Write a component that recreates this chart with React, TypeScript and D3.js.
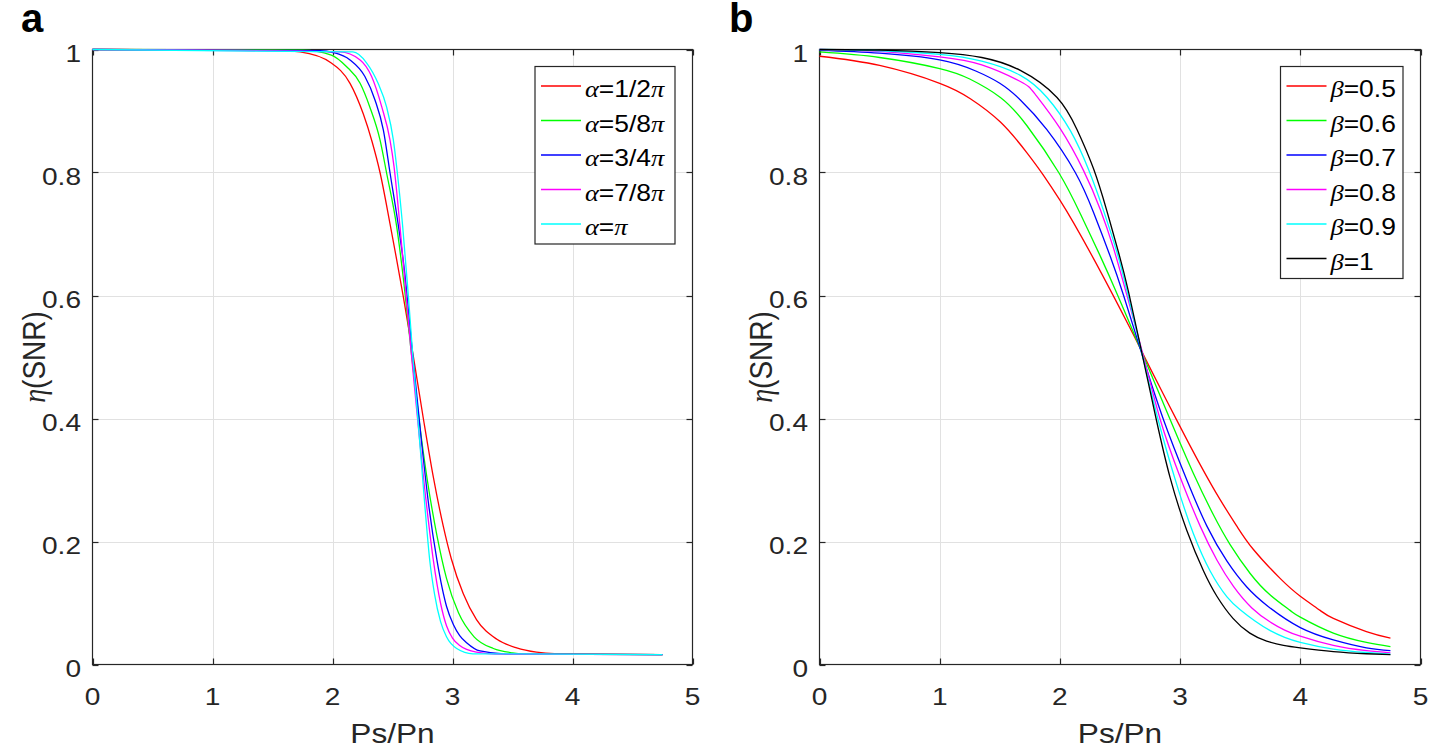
import React from 'react';
import * as d3 from 'd3';

// ---------- data ----------
const xTicks = [0, 1, 2, 3, 4, 5];
const xTickLabels = ['0', '1', '2', '3', '4', '5'];
const yTicks = [0, 0.2, 0.4, 0.6, 0.8, 1];
const yTickLabels = ['0', '0.2', '0.4', '0.6', '0.8', '1'];

const alphaNames = ['α=1/2π', 'α=5/8π', 'α=3/4π', 'α=7/8π', 'α=π'];
const betaNames = ['β=0.5', 'β=0.6', 'β=0.7', 'β=0.8', 'β=0.9', 'β=1'];
const alphaColors = ['#ff0000', '#00ff00', '#0000ff', '#ff00ff', '#00ffff'];
const betaColors = ['#ff0000', '#00ff00', '#0000ff', '#ff00ff', '#00ffff', '#000000'];

// panel a
const alphaHalf: [number, number][] = [[0, 1], [1.5, 0.999], [1.73, 0.996], [1.99, 0.978], [2.146, 0.945], [2.257, 0.895], [2.33, 0.85], [2.396, 0.8], [2.479, 0.717], [2.535, 0.658], [2.59, 0.598], [2.673, 0.502], [2.757, 0.4], [2.84, 0.305], [2.923, 0.225], [2.99, 0.172], [3.09, 0.115], [3.2, 0.073], [3.37, 0.041], [3.535, 0.027], [3.7, 0.02], [3.85, 0.0175], [4.75, 0.016]];
const alphaFiveEighths: [number, number][] = [[0, 1], [1.75, 0.999], [1.99, 0.991], [2.118, 0.972], [2.23, 0.945], [2.31, 0.907], [2.396, 0.853], [2.45, 0.8], [2.535, 0.712], [2.595, 0.62], [2.655, 0.51], [2.72, 0.4], [2.79, 0.3], [2.87, 0.21], [2.95, 0.14], [3.05, 0.084], [3.18, 0.045], [3.34, 0.026], [3.5, 0.019], [3.62, 0.017], [4.75, 0.016]];
const alphaThreeQuarters: [number, number][] = [[0, 1], [1.896, 0.998], [2.007, 0.995], [2.146, 0.983], [2.27, 0.956], [2.354, 0.918], [2.424, 0.869], [2.479, 0.8], [2.55, 0.712], [2.6, 0.64], [2.65, 0.54], [2.743, 0.36], [2.8, 0.262], [2.87, 0.17], [2.95, 0.0947], [3.007, 0.065], [3.06, 0.047], [3.12, 0.035], [3.23, 0.022], [3.45, 0.017], [4.75, 0.016]];
const alphaSevenEighths: [number, number][] = [[0, 1], [2.06, 0.996], [2.23, 0.983], [2.326, 0.956], [2.41, 0.907], [2.479, 0.853], [2.5125, 0.81], [2.5625, 0.712], [2.65, 0.52], [2.785, 0.257], [2.84, 0.17], [2.9, 0.1], [2.95, 0.063], [3.0, 0.043], [3.06, 0.031], [3.2, 0.02], [3.35, 0.017], [4.75, 0.016]];
const alphaPi: [number, number][] = [[0, 1], [2.17, 0.996], [2.285, 0.978], [2.38, 0.945], [2.45, 0.907], [2.507, 0.853], [2.54, 0.8], [2.585, 0.712], [2.63, 0.605], [2.67, 0.5], [2.77, 0.257], [2.81, 0.17], [2.85, 0.115], [2.9, 0.07], [2.95, 0.045], [3.035, 0.026], [3.17, 0.0174], [4.75, 0.016]];

// panel b
const beta05: [number, number][] = [[0, 0.989], [0.5, 0.974], [1, 0.945], [1.255, 0.92], [1.505, 0.882], [1.726, 0.832], [1.865, 0.795], [2.0, 0.755], [2.114, 0.718], [2.28, 0.66], [2.446, 0.599], [2.61, 0.537], [2.74, 0.486], [2.973, 0.397], [3.167, 0.325], [3.333, 0.268], [3.472, 0.225], [3.61, 0.187], [3.832, 0.14], [4.0, 0.111], [4.165, 0.088], [4.275, 0.075], [4.55, 0.0535], [4.75, 0.043]];
const beta06: [number, number][] = [[0, 0.996], [0.5, 0.987], [1, 0.969], [1.25, 0.952], [1.505, 0.922], [1.726, 0.876], [1.99, 0.8], [2.17, 0.733], [2.336, 0.664], [2.475, 0.603], [2.61, 0.541], [2.69, 0.504], [2.918, 0.398], [3.11, 0.311], [3.278, 0.243], [3.416, 0.195], [3.583, 0.148], [3.75, 0.113], [3.915, 0.088], [4.0, 0.077], [4.275, 0.051], [4.55, 0.036], [4.75, 0.029]];
const beta07: [number, number][] = [[0, 0.9985], [0.5, 0.994], [1, 0.983], [1.3, 0.965], [1.5, 0.945], [1.671, 0.918], [1.89, 0.87], [2.128, 0.8], [2.28, 0.735], [2.42, 0.663], [2.53, 0.6], [2.69, 0.5], [2.862, 0.398], [3.056, 0.3], [3.223, 0.225], [3.39, 0.168], [3.555, 0.126], [3.735, 0.094], [4.0, 0.06], [4.275, 0.04], [4.55, 0.027], [4.75, 0.0225]];
const beta08: [number, number][] = [[0, 1.0], [0.5, 0.997], [1, 0.988], [1.35, 0.975], [1.671, 0.948], [1.795, 0.927], [2.0, 0.872], [2.197, 0.803], [2.336, 0.74], [2.446, 0.677], [2.544, 0.61], [2.69, 0.505], [2.835, 0.398], [3.0, 0.305], [3.167, 0.225], [3.306, 0.17], [3.444, 0.127], [3.597, 0.092], [3.75, 0.069], [3.87, 0.056], [4.0, 0.046], [4.275, 0.031], [4.55, 0.0225], [4.75, 0.019]];
const beta09: [number, number][] = [[0, 1.0], [0.5, 0.998], [1, 0.992], [1.35, 0.981], [1.671, 0.958], [1.893, 0.922], [2.087, 0.868], [2.24, 0.804], [2.363, 0.738], [2.475, 0.67], [2.558, 0.608], [2.69, 0.5], [2.82, 0.396], [2.973, 0.292], [3.11, 0.213], [3.25, 0.152], [3.39, 0.11], [3.5, 0.089], [3.62, 0.071], [3.75, 0.055], [3.87, 0.044], [4.0, 0.036], [4.275, 0.025], [4.55, 0.0195], [4.75, 0.017]];
const beta10: [number, number][] = [[0, 1.0], [0.5, 0.999], [1, 0.995], [1.35, 0.987], [1.671, 0.966], [1.976, 0.922], [2.142, 0.87], [2.28, 0.806], [2.39, 0.738], [2.488, 0.67], [2.571, 0.606], [2.685, 0.504], [2.8, 0.4], [2.918, 0.303], [3.056, 0.218], [3.195, 0.152], [3.306, 0.111], [3.44, 0.075], [3.58, 0.051], [3.72, 0.038], [3.86, 0.031], [4.0, 0.027], [4.275, 0.021], [4.55, 0.0175], [4.75, 0.016]];

const alphaSeries = [alphaHalf, alphaFiveEighths, alphaThreeQuarters, alphaSevenEighths, alphaPi];
const betaSeries = [beta05, beta06, beta07, beta08, beta09, beta10];

// ---------- layout ----------
const W = 1429;
const H = 747;
const SANS = '"Liberation Sans", Arial, Helvetica, sans-serif';
const SERIF = '"Liberation Serif", "Times New Roman", serif';
const AXIS = '#262626';
const GRID = '#e1e1e1';
const STRETCH = 1.17;

function Mixed({ s }: { s: string }) {
  const parts: React.ReactNode[] = [];
  let buf = '';
  let k = 0;
  const flush = () => {
    if (buf) {
      parts.push(<tspan key={k++} fontFamily={SANS}>{buf}</tspan>);
      buf = '';
    }
  };
  for (const ch of s) {
    if (/[αβηπ]/.test(ch)) {
      flush();
      parts.push(<tspan key={k++} fontFamily={SERIF} fontStyle="italic">{ch}</tspan>);
    } else buf += ch;
  }
  flush();
  return <>{parts}</>;
}

function Panel({ x0, x1, letter, letterX, lgWidth, series, names, colors, curve }: {
  x0: number; x1: number; letter: string; letterX: number; lgWidth: number;
  series: [number, number][][]; names: string[]; colors: string[]; curve: d3.CurveFactory;
}) {
  const top = 49.5;
  const bottom = 664.5;
  const x = d3.scaleLinear().domain([0, 5]).range([x0, x1]);
  const y = d3.scaleLinear().domain([0, 1]).range([bottom, top]);
  const line = d3.line<[number, number]>().x(d => x(d[0])).y(d => y(d[1])).curve(curve);
  const tl = 6;

  const lgTop = 66.5;
  const rowH = 34.5;
  const firstRow = 86;
  const lgBottom = firstRow + (names.length - 1) * rowH + 20;
  const lL = x1 - 17.5 - lgWidth;

  return (
    <g>
      {xTicks.slice(1, -1).map(t => (
        <line key={'gx' + t} x1={Math.round(x(t)) + 0.5} x2={Math.round(x(t)) + 0.5} y1={top} y2={bottom} stroke={GRID} strokeWidth={1} />
      ))}
      {yTicks.slice(1, -1).map(t => (
        <line key={'gy' + t} x1={x0} x2={x1} y1={Math.round(y(t)) + 0.5} y2={Math.round(y(t)) + 0.5} stroke={GRID} strokeWidth={1} />
      ))}
      <rect x={x0} y={top} width={x1 - x0} height={bottom - top} fill="none" stroke={AXIS} strokeWidth={1.2} />
      {xTicks.map(t => {
        const px = Math.round(x(t)) + 0.5;
        return (
          <g key={'tx' + t}>
            <line x1={px} x2={px} y1={bottom} y2={bottom - tl} stroke={AXIS} strokeWidth={1.2} />
            <line x1={px} x2={px} y1={top} y2={top + tl} stroke={AXIS} strokeWidth={1.2} />
          </g>
        );
      })}
      {yTicks.map(t => {
        const py = Math.round(y(t)) + 0.5;
        return (
          <g key={'ty' + t}>
            <line x1={x0} x2={x0 + tl} y1={py} y2={py} stroke={AXIS} strokeWidth={1.2} />
            <line x1={x1} x2={x1 - tl} y1={py} y2={py} stroke={AXIS} strokeWidth={1.2} />
          </g>
        );
      })}
      {xTicks.map((t, i) => (
        <text key={'lx' + t} transform={`translate(${x(t)},705) scale(${STRETCH},1)`} textAnchor="middle"
          fontFamily={SANS} fontSize={24} fill={AXIS}>{xTickLabels[i]}</text>
      ))}
      {yTicks.map((t, i) => (
        <text key={'ly' + t} transform={`translate(${x0 - 11.5},${y(t) + 12}) scale(${STRETCH},1)`} textAnchor="end"
          fontFamily={SANS} fontSize={24} fill={AXIS}>{yTickLabels[i]}</text>
      ))}
      <text transform={`translate(${(x0 + x1) / 2},743) scale(1.13,1)`} textAnchor="middle" fontFamily={SANS} fontSize={28} fill={AXIS}>Ps/Pn</text>
      <text transform={`translate(${x0 - 47.5},${(top + bottom) / 2}) rotate(-90) scale(1,1.12)`} textAnchor="middle" fontSize={28} fill={AXIS}>
        <Mixed s="η(SNR)" />
      </text>
      <text x={letterX} y={31.5} fontFamily={SANS} fontWeight="bold" fontSize={40} fill="#000">{letter}</text>
      {series.map((d, i) => (
        <path key={'s' + i} d={line(d) || ''} fill="none" stroke={colors[i]} strokeWidth={1.3} />
      ))}
      <rect x={lL} y={lgTop} width={lgWidth} height={lgBottom - lgTop} fill="#fff" stroke={AXIS} strokeWidth={1.2} />
      {names.map((n, i) => {
        const ry = firstRow + i * rowH;
        return (
          <g key={'lg' + i}>
            <line x1={lL + 6} x2={lL + 46} y1={ry} y2={ry} stroke={colors[i]} strokeWidth={1.3} />
            <text transform={`translate(${lL + 50},${ry + 11}) scale(1.15,1)`} fontSize={23} fill="#000">
              <Mixed s={n} />
            </text>
          </g>
        );
      })}
    </g>
  );
}

export default function App() {
  return (
    <svg width={W} height={H} viewBox={`0 0 ${W} ${H}`} style={{ position: 'absolute', left: 0, top: 0, display: 'block', background: '#fff' }}>
      <rect x={0} y={0} width={W} height={H} fill="#fff" />
      <Panel x0={92.5} x1={692.5} letter="a" letterX={21} lgWidth={140} series={alphaSeries} names={alphaNames} colors={alphaColors} curve={d3.curveMonotoneX} />
      <Panel x0={819.5} x1={1420.5} letter="b" letterX={729} lgWidth={122.5} series={betaSeries} names={betaNames} colors={betaColors} curve={d3.curveNatural} />
    </svg>
  );
}
